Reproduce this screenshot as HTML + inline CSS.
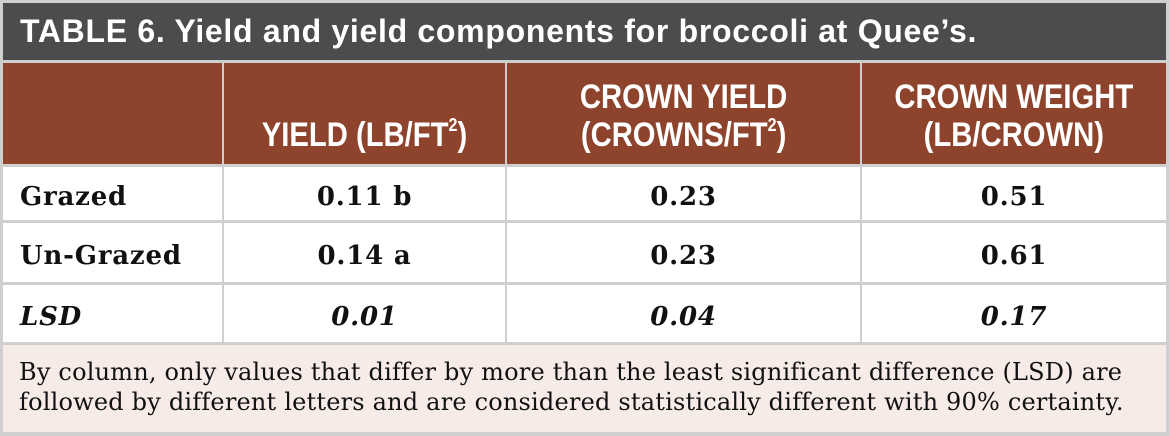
<!DOCTYPE html>
<html><head><meta charset="utf-8"><style>
body{margin:0;width:1169px;height:436px;background:#cfcfcf;position:relative;overflow:hidden}
div{position:absolute;box-sizing:border-box}
.t{font-family:"Liberation Sans",sans-serif;font-weight:bold;color:#fff}
.h{background:#8e442c;top:63px;height:101px;display:flex;align-items:flex-end;justify-content:center;text-align:center;padding-bottom:10px;font-size:34px;line-height:38px}
.h span{display:inline-block;transform:scaleX(0.86);white-space:nowrap}
.c{background:#fff;font-family:"DejaVu Serif",serif;font-weight:bold;font-size:26px;letter-spacing:0.8px;color:#111;display:flex;align-items:center;justify-content:center;padding-top:6px}
.l{justify-content:flex-start;padding-left:17px}
.i{font-style:italic}
sup{font-size:0.55em;vertical-align:0.8em;line-height:0}
</style></head><body>
<div class="t" style="left:3px;top:3px;width:1163px;height:57px;background:#4b4c4e;font-size:32px;letter-spacing:0.7px;line-height:57px;padding-left:17px">TABLE 6. Yield and yield components for broccoli at Quee’s.</div>
<div class="h t" style="left:3px;width:219px"></div>
<div class="h t" style="left:224px;width:281px"><span>YIELD (LB/FT<sup>2</sup>)</span></div>
<div class="h t" style="left:507px;width:353px"><span>CROWN YIELD<br>(CROWNS/FT<sup>2</sup>)</span></div>
<div class="h t" style="left:862px;width:304px"><span>CROWN WEIGHT<br>(LB/CROWN)</span></div>

<div class="c l" style="left:3px;top:167px;width:219px;height:53px">Grazed</div>
<div class="c" style="left:224px;top:167px;width:281px;height:53px">0.11 b</div>
<div class="c" style="left:507px;top:167px;width:353px;height:53px">0.23</div>
<div class="c" style="left:862px;top:167px;width:304px;height:53px">0.51</div>

<div class="c l" style="left:3px;top:223px;width:219px;height:59px">Un-Grazed</div>
<div class="c" style="left:224px;top:223px;width:281px;height:59px">0.14 a</div>
<div class="c" style="left:507px;top:223px;width:353px;height:59px">0.23</div>
<div class="c" style="left:862px;top:223px;width:304px;height:59px">0.61</div>

<div class="c l i" style="left:3px;top:285px;width:219px;height:57px">LSD</div>
<div class="c i" style="left:224px;top:285px;width:281px;height:57px">0.01</div>
<div class="c i" style="left:507px;top:285px;width:353px;height:57px">0.04</div>
<div class="c i" style="left:862px;top:285px;width:304px;height:57px">0.17</div>

<div style="left:3px;top:345px;width:1163px;height:87px;background:#f7ebe8;font-family:'DejaVu Serif',serif;font-size:24px;letter-spacing:0.2px;line-height:30px;color:#111;padding:12px 0 0 16px;white-space:nowrap">By column, only values that differ by more than the least significant difference (LSD) are<br>followed by different letters and are considered statistically different with 90% certainty.</div>
</body></html>
